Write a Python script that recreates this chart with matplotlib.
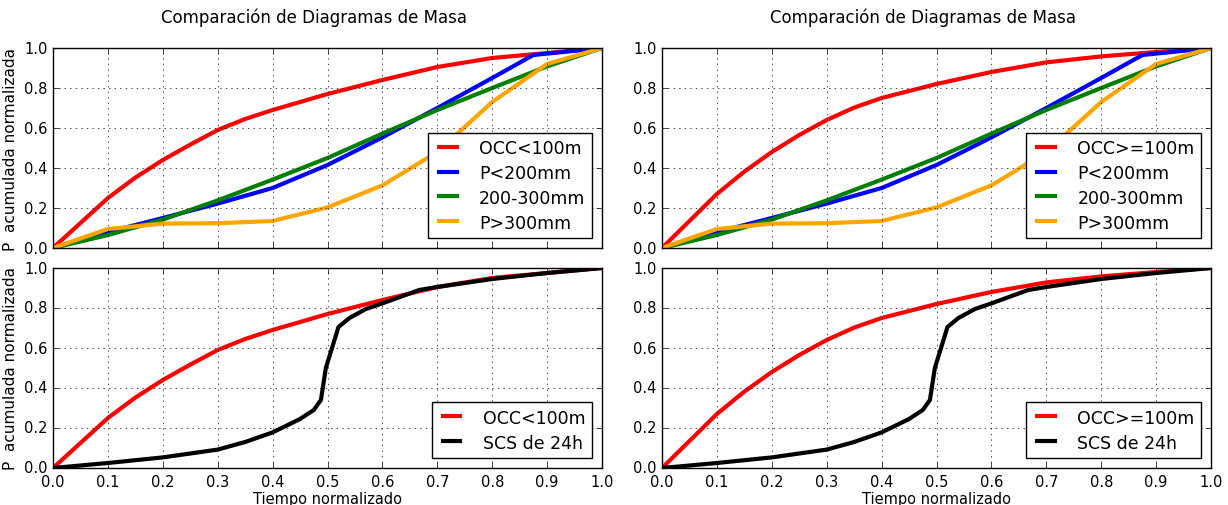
"""Comparación de diagramas de masa: curvas acumuladas normalizadas."""

import matplotlib

matplotlib.use("Agg")
import matplotlib.pyplot as plt

TITLE = "Comparación de Diagramas de Masa"
YLABEL = "P  acumulada normalizada"
XLABEL = "Tiempo normalizado"

# OCC < 100 m
occ_lt_x = [0.0, 0.05, 0.1, 0.15, 0.2, 0.25, 0.3, 0.35, 0.4, 0.5, 0.6, 0.7, 0.8, 0.9, 1.0]
occ_lt_y = [0.0, 0.125, 0.25, 0.352, 0.44, 0.517, 0.59, 0.645, 0.69, 0.77, 0.84, 0.905, 0.95, 0.975, 1.0]

# OCC >= 100 m
occ_ge_x = [0.0, 0.05, 0.1, 0.15, 0.2, 0.25, 0.3, 0.35, 0.4, 0.5, 0.6, 0.7, 0.8, 0.9, 1.0]
occ_ge_y = [0.0, 0.135, 0.27, 0.382, 0.48, 0.565, 0.64, 0.702, 0.75, 0.82, 0.88, 0.928, 0.958, 0.98, 1.0]

p200_x = [0.0, 0.1, 0.2, 0.3, 0.4, 0.5, 0.6, 0.7, 0.8, 0.875, 1.0]
p200_y = [0.0, 0.08, 0.15, 0.222, 0.30, 0.415, 0.553, 0.70, 0.85, 0.965, 1.0]

p200_300_x = [0.0, 0.1, 0.2, 0.3, 0.4, 0.5, 0.6, 0.7, 0.8, 0.9, 1.0]
p200_300_y = [0.0, 0.065, 0.142, 0.238, 0.342, 0.45, 0.572, 0.69, 0.80, 0.908, 1.0]

p300_x = [0.0, 0.1, 0.2, 0.3, 0.4, 0.5, 0.6, 0.7, 0.8, 0.9, 1.0]
p300_y = [0.0, 0.095, 0.122, 0.124, 0.135, 0.203, 0.313, 0.48, 0.73, 0.92, 1.0]

scs_x = [0.0, 0.1, 0.2, 0.3, 0.35, 0.4, 0.45, 0.475, 0.488, 0.497, 0.52, 0.54, 0.57,
         0.6, 0.667, 0.7, 0.8, 0.9, 1.0]
scs_y = [0.0, 0.025, 0.053, 0.092, 0.13, 0.178, 0.245, 0.29, 0.34, 0.5, 0.705, 0.75, 0.795,
         0.823, 0.89, 0.905, 0.945, 0.975, 1.0]

ticks = [0.0, 0.1, 0.2, 0.3, 0.4, 0.5, 0.6, 0.7, 0.8, 0.9, 1.0]
yticks = [0.0, 0.2, 0.4, 0.6, 0.8, 1.0]

plt.style.use("classic")
plt.rcParams.update(
    {
        "figure.facecolor": "white",
        "savefig.facecolor": "white",
        "font.family": "DejaVu Sans",
        "xtick.labelsize": 10.5,
        "ytick.labelsize": 10.5,
        "axes.labelsize": 10.5,
        "legend.fontsize": 12.5,
        "lines.linewidth": 3,
    }
)

fig = plt.figure(figsize=(12.28, 5.06), dpi=100)
W, H = 1228.0, 506.0


def _axes(left_px, top_px):
    return fig.add_axes([left_px / W, 1 - (top_px + 200) / H, 549 / W, 200 / H])


def _style(ax, show_x, ylabel):
    ax.set_xlim(0, 1)
    ax.set_ylim(0, 1)
    ax.set_xticks(ticks)
    ax.set_yticks(yticks)
    ax.grid(True)
    if show_x:
        ax.set_xlabel(XLABEL, labelpad=2)
    else:
        ax.set_xticklabels([])
    if ylabel:
        ax.set_ylabel(YLABEL, labelpad=4, fontsize=11)


def _legend(ax):
    ax.legend(loc="lower right", fancybox=False, handlelength=1.6,
              handletextpad=1.0, borderpad=0.35, labelspacing=0.4,
              borderaxespad=0.6)


for left, occ_x, occ_y, occ_label, with_ylabel in [
    (53, occ_lt_x, occ_lt_y, "OCC<100m", True),
    (662, occ_ge_x, occ_ge_y, "OCC>=100m", False),
]:
    top = _axes(left, 49)
    top.plot(occ_x, occ_y, color="red", label=occ_label)
    top.plot(p200_x, p200_y, color="blue", label="P<200mm")
    top.plot(p200_300_x, p200_300_y, color="green", label="200-300mm")
    top.plot(p300_x, p300_y, color="orange", label="P>300mm")
    _style(top, False, with_ylabel)
    top.set_title(TITLE, fontsize=12, x=0.475, y=1.0, pad=19)
    _legend(top)

    bot = _axes(left, 269)
    bot.plot(occ_x, occ_y, color="red", label=occ_label)
    bot.plot(scs_x, scs_y, color="black", label="SCS de 24h")
    _style(bot, True, with_ylabel)
    _legend(bot)

fig.savefig("out.png", dpi=100)
